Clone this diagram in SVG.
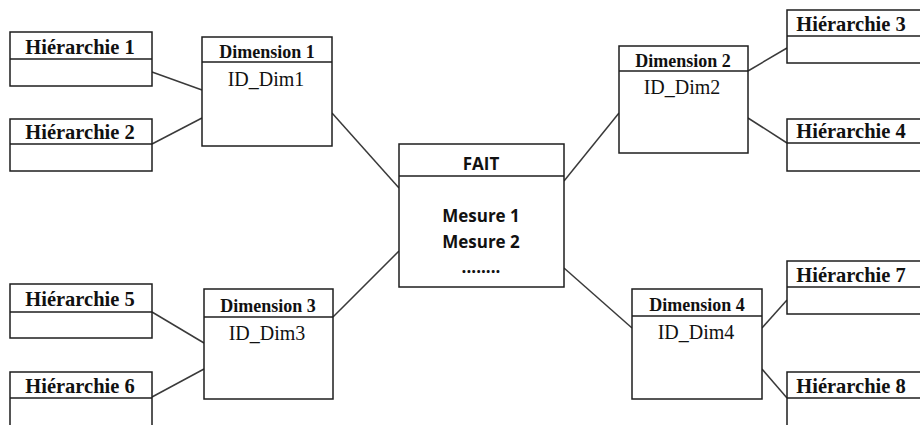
<svg xmlns="http://www.w3.org/2000/svg" width="920" height="425" viewBox="0 0 920 425">
  <style>
    .box { fill: #ffffff; stroke: #1e1e1e; stroke-width: 1.5; }
    .sep { stroke: #1e1e1e; stroke-width: 1.5; }
    .link { stroke: #3a3a3a; stroke-width: 1.5; fill: none; }
    .hier { font-family: "Liberation Serif", "Times New Roman", serif; font-weight: bold; font-size: 20.5px; fill: #111; text-anchor: middle; }
    .dimt { font-family: "Liberation Serif", "Times New Roman", serif; font-weight: bold; font-size: 18px; fill: #111; text-anchor: middle; }
    .idt { font-family: "Liberation Serif", "Times New Roman", serif; font-size: 20px; fill: #111; text-anchor: middle; }
    .fact { font-family: "Open Sans", "Liberation Sans", sans-serif; font-weight: bold; font-size: 17px; fill: #111; text-anchor: middle; }
  </style>

  <rect width="920" height="425" fill="#ffffff"/>

  <!-- connectors -->
  <g id="connectors">
    <line class="link" x1="152" y1="72" x2="202" y2="90"/>
    <line class="link" x1="152" y1="144" x2="202" y2="118"/>
    <line class="link" x1="332" y1="113" x2="399" y2="188"/>
    <line class="link" x1="152" y1="312" x2="204" y2="343"/>
    <line class="link" x1="152" y1="397" x2="204" y2="369"/>
    <line class="link" x1="333" y1="317" x2="399" y2="251"/>
    <line class="link" x1="564" y1="181" x2="619" y2="113"/>
    <line class="link" x1="748" y1="71" x2="787" y2="48"/>
    <line class="link" x1="748" y1="118" x2="787" y2="143"/>
    <line class="link" x1="564" y1="268" x2="632" y2="328"/>
    <line class="link" x1="762" y1="328" x2="787" y2="300"/>
    <line class="link" x1="762" y1="369" x2="787" y2="398"/>
  </g>

  <!-- fact table -->
  <g id="fait">
    <rect class="box" x="399" y="144" width="165" height="143"/>
    <line class="sep" x1="399" y1="176" x2="564" y2="176"/>
    <text class="fact" x="481" y="170">FAIT</text>
    <text class="fact" x="481" y="222">Mesure 1</text>
    <text class="fact" x="481" y="248">Mesure 2</text>
    <text class="fact" x="481" y="273">........</text>
  </g>

  <!-- dimensions -->
  <g id="dimension1">
    <rect class="box" x="202" y="37" width="130" height="109"/>
    <line class="sep" x1="202" y1="62" x2="332" y2="62"/>
    <text class="dimt" x="267" y="58">Dimension 1</text>
    <text class="idt" x="266" y="86">ID_Dim1</text>
  </g>
  <g id="dimension2">
    <rect class="box" x="619" y="46" width="129" height="107"/>
    <line class="sep" x1="619" y1="71" x2="748" y2="71"/>
    <text class="dimt" x="683" y="67">Dimension 2</text>
    <text class="idt" x="682" y="94">ID_Dim2</text>
  </g>
  <g id="dimension3">
    <rect class="box" x="204" y="289" width="129" height="110"/>
    <line class="sep" x1="204" y1="317" x2="333" y2="317"/>
    <text class="dimt" x="268" y="312">Dimension 3</text>
    <text class="idt" x="267" y="340">ID_Dim3</text>
  </g>
  <g id="dimension4">
    <rect class="box" x="632" y="289" width="130" height="110"/>
    <line class="sep" x1="632" y1="316" x2="762" y2="316"/>
    <text class="dimt" x="697" y="311">Dimension 4</text>
    <text class="idt" x="696" y="339">ID_Dim4</text>
  </g>

  <!-- hierarchies -->
  <g id="hierarchie1">
    <rect class="box" x="10" y="32" width="142" height="54"/>
    <line class="sep" x1="10" y1="59" x2="152" y2="59"/>
    <text class="hier" x="80" y="54">Hiérarchie 1</text>
  </g>
  <g id="hierarchie2">
    <rect class="box" x="10" y="119" width="142" height="52"/>
    <line class="sep" x1="10" y1="144" x2="152" y2="144"/>
    <text class="hier" x="80" y="139">Hiérarchie 2</text>
  </g>
  <g id="hierarchie3">
    <rect class="box" x="787" y="10" width="140" height="53"/>
    <line class="sep" x1="787" y1="36" x2="927" y2="36"/>
    <text class="hier" x="851" y="31">Hiérarchie 3</text>
  </g>
  <g id="hierarchie4">
    <rect class="box" x="787" y="119" width="140" height="52"/>
    <line class="sep" x1="787" y1="143" x2="927" y2="143"/>
    <text class="hier" x="851" y="138">Hiérarchie 4</text>
  </g>
  <g id="hierarchie5">
    <rect class="box" x="10" y="284" width="142" height="54"/>
    <line class="sep" x1="10" y1="312" x2="152" y2="312"/>
    <text class="hier" x="80" y="306">Hiérarchie 5</text>
  </g>
  <g id="hierarchie6">
    <rect class="box" x="10" y="372" width="142" height="60"/>
    <line class="sep" x1="10" y1="398" x2="152" y2="398"/>
    <text class="hier" x="80" y="393">Hiérarchie 6</text>
  </g>
  <g id="hierarchie7">
    <rect class="box" x="787" y="261" width="140" height="53"/>
    <line class="sep" x1="787" y1="287" x2="927" y2="287"/>
    <text class="hier" x="851" y="282">Hiérarchie 7</text>
  </g>
  <g id="hierarchie8">
    <rect class="box" x="787" y="372" width="140" height="60"/>
    <line class="sep" x1="787" y1="398" x2="927" y2="398"/>
    <text class="hier" x="851" y="393">Hiérarchie 8</text>
  </g>
</svg>
